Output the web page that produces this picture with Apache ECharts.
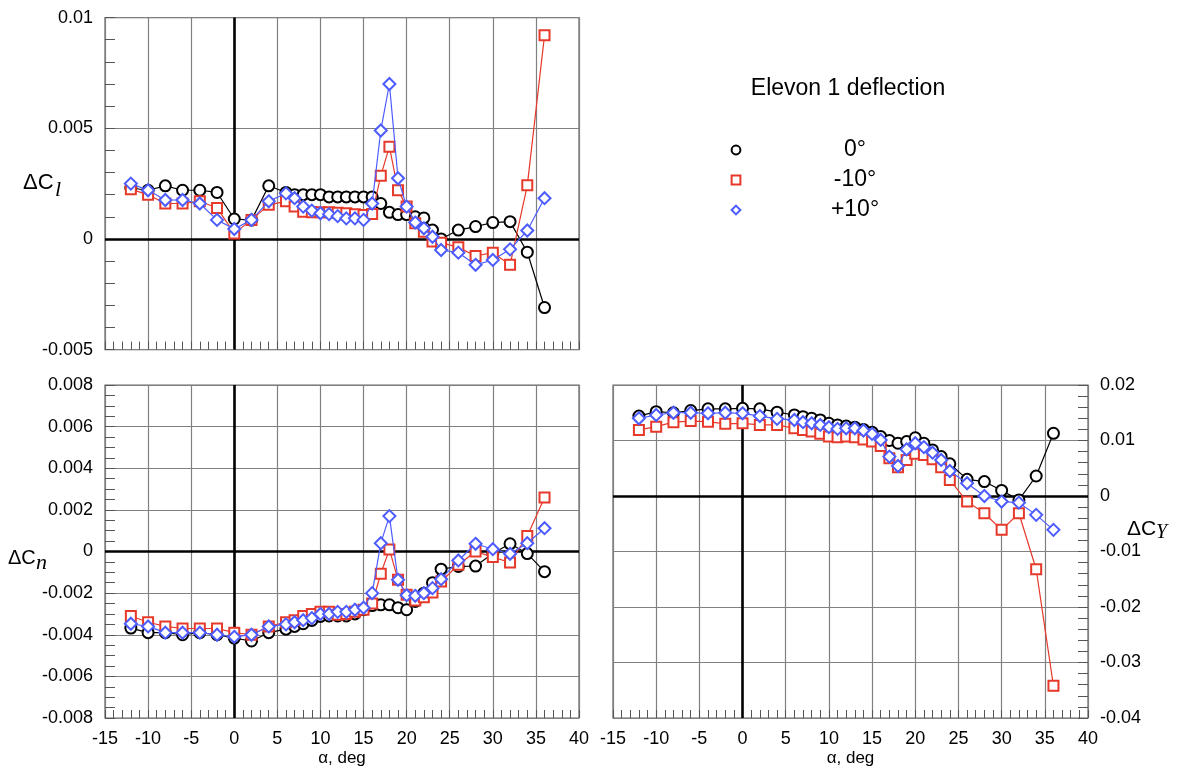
<!DOCTYPE html>
<html><head><meta charset="utf-8">
<script src="https://cdn.jsdelivr.net/npm/echarts@6/dist/echarts.min.js"></script>
<style>html,body{margin:0;padding:0;background:#fff}#c{width:1180px;height:770px}</style>
</head><body><div id="c"></div><script>
// angle of attack, deg
const alpha = [-12,-10,-8,-6,-4,-2,0,2,4,6,7,8,9,10,11,12,13,14,15,16,17,18,19,20,21,22,23,24,26,28,30,32,34,36];
const seriesNames = ['0°','-10°','+10°'];
const xTicks = [-15,-10,-5,0,5,10,15,20,25,30,35,40];

// Delta C_l
const cl_0   = [0.0023,0.0022,0.0024,0.0022,0.0022,0.0021,0.0009,0.00085,0.0024,0.0021,0.002,0.002,0.002,0.002,0.0019,0.0019,0.0019,0.0019,0.0019,0.0019,0.0016,0.0012,0.0011,0.0011,0.001,0.00095,0.0004,0.0,0.0004,0.00056,0.00074,0.00078,-0.0006,-0.0031];
const cl_m10 = [0.00224,0.002,0.0016,0.0016,0.0017,0.0014,0.00025,0.00086,0.00154,0.0017,0.00146,0.00123,0.0012,0.0012,0.0012,0.00118,0.00116,0.00112,0.00108,0.00113,0.00285,0.00417,0.0022,0.00146,0.00071,0.00033,-0.00012,-0.00017,-0.00038,-0.00077,-0.00062,-0.00117,0.00242,0.0092];
const cl_p10 = [0.0025,0.0022,0.00176,0.00176,0.0016,0.00086,0.00045,0.00086,0.0017,0.00206,0.00184,0.00146,0.00128,0.00116,0.00112,0.00103,0.00093,0.00093,0.00086,0.0016,0.0049,0.007,0.00274,0.00146,0.00074,0.00048,0.0001,-0.0005,-0.00062,-0.00117,-0.00095,-0.00047,0.00038,0.00184];

// Delta C_n
const cn_0   = [-0.00368,-0.0039,-0.0039,-0.004,-0.0039,-0.004,-0.00416,-0.0043,-0.0039,-0.00373,-0.0036,-0.00347,-0.00331,-0.00312,-0.0031,-0.0031,-0.0031,-0.003,-0.0028,-0.0026,-0.00256,-0.00256,-0.0027,-0.0028,-0.0024,-0.002,-0.0015,-0.00085,-0.00072,-0.0007,-0.0001,0.00037,-0.0001,-0.00097];
const cn_m10 = [-0.0031,-0.0034,-0.0036,-0.0037,-0.0037,-0.0037,-0.0039,-0.004,-0.0036,-0.0034,-0.0033,-0.0031,-0.003,-0.0029,-0.0029,-0.00304,-0.003,-0.0029,-0.0028,-0.0025,-0.00107,0.0001,-0.00136,-0.00208,-0.00235,-0.0022,-0.00197,-0.00144,-0.00064,0.0,-0.00027,-0.00053,0.00075,0.0026];
const cn_p10 = [-0.00347,-0.0036,-0.0039,-0.0039,-0.0039,-0.004,-0.0041,-0.004,-0.0036,-0.0035,-0.0034,-0.0033,-0.0032,-0.003,-0.003,-0.0029,-0.0029,-0.0028,-0.0027,-0.002,0.0004,0.0017,-0.00136,-0.0021,-0.00213,-0.002,-0.00176,-0.00133,-0.00043,0.00037,0.00011,-0.00011,0.0004,0.00112];

// Delta C_Y
const cy_0   = [0.0144,0.0152,0.015,0.0154,0.0157,0.0157,0.0158,0.0157,0.0151,0.0146,0.0143,0.014,0.0137,0.0131,0.0128,0.0126,0.0124,0.012,0.0115,0.0107,0.01,0.0095,0.0098,0.0105,0.0095,0.0083,0.0071,0.0058,0.003,0.0026,0.001,-0.0007,0.0036,0.0113];
const cy_m10 = [0.0119,0.0125,0.0133,0.0135,0.0134,0.013,0.0131,0.0128,0.0128,0.0122,0.0119,0.0116,0.0112,0.0107,0.0106,0.0107,0.0106,0.0102,0.0098,0.009,0.0068,0.0052,0.0065,0.0076,0.0074,0.0066,0.0052,0.0029,-0.001,-0.0031,-0.0061,-0.0031,-0.0132,-0.0342];
const cy_p10 = [0.014,0.0146,0.015,0.015,0.0149,0.015,0.0149,0.0144,0.0139,0.0137,0.0133,0.0131,0.0128,0.0124,0.0121,0.0122,0.0122,0.0118,0.0112,0.0101,0.0071,0.0054,0.0084,0.0095,0.0088,0.0078,0.0065,0.0045,0.0023,0.0,-0.001,-0.0012,-0.0034,-0.0061];

const FONT = '"Liberation Sans", Arial, Helvetica, sans-serif';
const SERIF = '"Liberation Serif", "DejaVu Serif", "Times New Roman", serif';
const colors = ['#000000', '#e6392a', '#4d5cff'];
const symbols = ['emptyCircle', 'emptyRect', 'emptyDiamond'];
const symbolSizes = [11, 10, 12];

const fmt = v => String(parseFloat(v.toFixed(4)));

function mkX(gi, showLabel) {
  return {
    type: 'value', gridIndex: gi, min: xTicks[0], max: xTicks[xTicks.length - 1], interval: 5,
    axisLine: { show: false, onZero: false },
    axisTick: { show: true, inside: true, length: 8, lineStyle: { color: '#555' } },
    minorTick: { show: true, splitNumber: 5, length: 8, lineStyle: { color: '#555' } },
    splitLine: { show: true, lineStyle: { color: '#808080', width: 1.2 } },
    axisLabel: { show: showLabel, fontSize: 18, color: '#000', fontFamily: FONT, margin: 12 },
    name: showLabel ? 'α, deg' : '', nameLocation: 'middle', nameGap: 32,
    nameTextStyle: { fontSize: 17, color: '#000', fontFamily: FONT }
  };
}
function mkY(gi, min, max, interval, minorSplit, pos) {
  return {
    type: 'value', gridIndex: gi, min, max, interval, position: pos,
    axisLine: { show: false, onZero: false },
    axisTick: { show: true, inside: true, length: 10, lineStyle: { color: '#555' } },
    minorTick: { show: true, splitNumber: minorSplit, length: 10, lineStyle: { color: '#555' } },
    splitLine: { show: true, lineStyle: { color: '#808080', width: 1.2 } },
    axisLabel: { fontSize: 18, color: '#000', fontFamily: FONT, margin: 12, formatter: fmt }
  };
}

const datasets = [[cl_0, cl_m10, cl_p10], [cn_0, cn_m10, cn_p10], [cy_0, cy_m10, cy_p10]];
const series = [];
datasets.forEach((group, gi) => {
  group.forEach((vals, si) => {
    const s = {
      type: 'line', name: seriesNames[si], xAxisIndex: gi, yAxisIndex: gi,
      data: alpha.map((a, i) => [a, vals[i]]),
      symbol: symbols[si], symbolSize: symbolSizes[si],
      color: colors[si],
      lineStyle: { color: colors[si], width: 1.2 },
      itemStyle: { color: colors[si], borderColor: colors[si], borderWidth: 1.4 },
      z: 3 + si, animation: false
    };
    if (si === 0) {
      s.markLine = {
        silent: true, symbol: ['none', 'none'], z: 1, animation: false,
        label: { show: false },
        lineStyle: { color: '#000', width: 2.6, type: 'solid' },
        data: [{ xAxis: 0 }, { yAxis: 0 }]
      };
    }
    series.push(s);
  });
});

const chart = echarts.init(document.getElementById('c'));
chart.setOption({
  backgroundColor: '#fff',
  animation: false,
  grid: [
    { left: 105, top: 17.6, width: 474, height: 332, show: true, borderColor: '#666', borderWidth: 1.2 },
    { left: 105, top: 385, width: 474, height: 333, show: true, borderColor: '#666', borderWidth: 1.2 },
    { left: 613, top: 385, width: 475, height: 333, show: true, borderColor: '#666', borderWidth: 1.2 }
  ],
  xAxis: [mkX(0, false), mkX(1, true), mkX(2, true)],
  yAxis: [
    mkY(0, -0.005, 0.01, 0.005, 5, 'left'),
    mkY(1, -0.008, 0.008, 0.002, 4, 'left'),
    mkY(2, -0.04, 0.02, 0.01, 5, 'right')
  ],
  legend: {
    orient: 'vertical', left: 724, top: 130, itemWidth: 12, itemHeight: 11, itemGap: 0,
    selectedMode: false, data: seriesNames,
    lineStyle: { opacity: 0 },
    formatter: '{a|{name}}',
    textStyle: { color: '#000', fontFamily: FONT, fontSize: 23,
      rich: { a: { width: 216, align: 'center', fontSize: 23, height: 30, lineHeight: 30, fontFamily: FONT, color: '#000' } } }
  },
  graphic: [
    { type: 'text', style: { x: 848, y: 89, text: 'Elevon 1 deflection', fontSize: 23, fontFamily: FONT, fill: '#000', align: 'center', verticalAlign: 'middle' } },
    { type: 'text', style: { x: 23, y: 183, text: 'ΔC', fontSize: 22, fontFamily: FONT, fill: '#000', align: 'left', verticalAlign: 'middle' } },
    { type: 'text', style: { x: 55, y: 190, text: 'l', fontSize: 22, fontStyle: 'italic', fontFamily: SERIF, fill: '#000', align: 'left', verticalAlign: 'middle' } },
    { type: 'text', style: { x: 8, y: 558, text: 'ΔC', fontSize: 20, fontFamily: FONT, fill: '#000', align: 'left', verticalAlign: 'middle' } },
    { type: 'text', style: { x: 36, y: 563, text: 'n', fontSize: 22, fontStyle: 'italic', fontFamily: SERIF, fill: '#000', align: 'left', verticalAlign: 'middle' } },
    { type: 'text', style: { x: 1127, y: 529, text: 'ΔC', fontSize: 21, fontFamily: FONT, fill: '#000', align: 'left', verticalAlign: 'middle' } },
    { type: 'text', style: { x: 1156, y: 533, text: 'Y', fontSize: 20, fontStyle: 'italic', fontFamily: SERIF, fill: '#000', align: 'left', verticalAlign: 'middle' } }
  ],
  series
});
</script></body></html>
